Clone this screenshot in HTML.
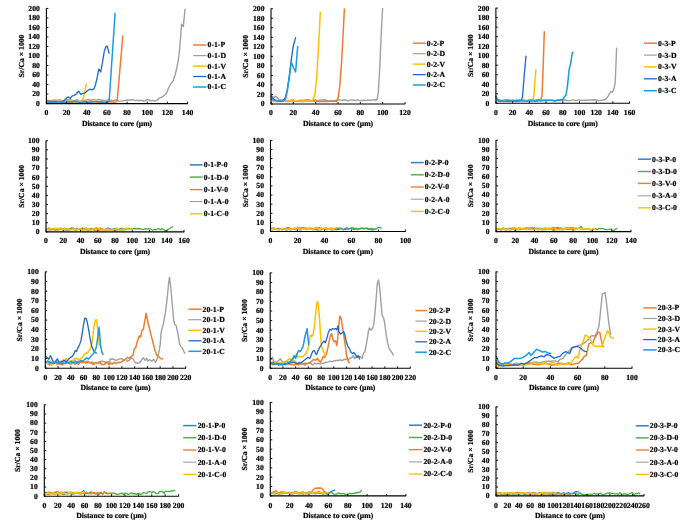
<!DOCTYPE html>
<html><head><meta charset="utf-8"><title>Sr/Ca profiles</title>
<style>html,body{margin:0;padding:0;background:#fff}body{width:685px;height:530px;overflow:hidden;font-family:"Liberation Serif",serif}svg{display:block;will-change:transform}</style>
</head><body>
<svg width="685" height="530" viewBox="0 0 685 530">
<rect width="685" height="530" fill="#fff"/>
<g font-family="Liberation Serif, serif" font-weight="bold" font-size="7.7" fill="#000" stroke="#000" stroke-width="0.2" text-rendering="geometricPrecision">
<polyline points="47.0,100.2 49.0,100.4 51.0,101.0 53.0,100.2 55.0,100.3 57.0,100.4 59.0,99.8 61.0,100.3 63.0,100.5 65.0,100.8 67.0,99.7 69.0,100.0 71.0,99.6 73.0,100.8 75.0,100.6 77.0,99.6 79.0,101.1 81.0,101.0 83.0,100.5 85.0,100.5 87.0,99.8 89.0,99.5 91.0,100.3 93.0,99.6 95.0,99.8 97.0,99.9 99.0,99.5 101.0,100.2 103.0,100.2 105.0,100.8 107.0,100.3 109.0,100.5 111.0,100.3 113.0,100.6 115.0,100.2 117.0,99.9 119.0,101.1 121.0,101.1 123.0,100.8 125.0,100.6 127.0,100.0 129.0,99.9 131.0,100.0 133.0,99.6 135.0,100.7 137.0,100.1 139.0,100.9 141.0,100.1 143.0,101.0 145.0,100.9 147.0,99.5 149.0,99.8 151.0,101.0 153.0,100.3 155.0,101.1 157.0,100.1 158.0,99.6 158.6,98.7 162.5,96.7 165.4,94.4 167.3,91.5 168.3,88.6 170.2,84.7 173.2,80.8 175.1,75.0 177.0,67.2 179.0,55.5 180.4,40.0 181.5,24.3 183.3,26.6 185.0,9.1" fill="none" stroke="#A0A0A0" stroke-width="1.4" stroke-linejoin="round" stroke-linecap="round"/>
<polyline points="47.0,102.2 49.0,102.3 51.0,102.3 53.0,101.9 55.0,101.8 57.0,102.1 59.0,102.0 61.0,102.4 63.0,102.4 65.0,102.3 67.0,102.2 69.0,102.3 71.0,101.9 73.0,102.2 75.0,101.9 77.0,102.5 79.0,101.8 81.0,102.5 83.0,101.9 85.0,102.3 87.0,102.1 89.0,102.1 91.0,102.5 93.0,101.8 95.0,101.8 97.0,102.5 99.0,102.2 101.0,101.9 103.0,102.6 105.0,102.6 107.0,101.9 109.0,102.1 111.0,101.9 113.0,102.1 115.0,102.3 116.0,101.9 117.2,100.6 122.8,36.1" fill="none" stroke="#F27C2E" stroke-width="1.5" stroke-linejoin="round" stroke-linecap="round"/>
<polyline points="47.0,101.4 49.0,101.8 51.0,101.8 53.0,101.9 55.0,101.3 57.0,101.3 59.0,101.2 61.0,101.3 63.0,101.8 65.0,101.2 67.0,101.6 69.0,101.3 71.0,101.4 73.0,101.5 75.0,101.9 77.0,101.7 79.0,101.1 81.0,101.4 82.9,99.3 84.4,93.4 86.2,84.1" fill="none" stroke="#FFC000" stroke-width="1.5" stroke-linejoin="round" stroke-linecap="round"/>
<polyline points="47.0,101.3 49.0,102.0 51.0,102.0 53.0,102.3 55.0,101.5 57.0,101.5 59.0,102.1 61.0,102.0 62.0,101.6 62.5,101.6 64.4,100.2 66.3,98.3 68.3,96.9 70.2,98.3 72.2,96.0 74.1,95.4 76.1,94.0 78.6,91.1 80.9,94.4 82.9,93.4 85.2,92.8 87.7,90.5 90.1,89.1 92.2,89.9 94.1,88.6 95.5,84.7 96.9,78.8 98.8,69.1 100.7,72.0 102.3,63.3 104.2,51.6 105.8,46.8 107.2,46.2 108.1,49.7 109.1,53.2" fill="none" stroke="#1C68CE" stroke-width="1.3" stroke-linejoin="round" stroke-linecap="round"/>
<polyline points="47.0,102.5 49.0,101.3 51.0,102.2 53.0,101.5 55.0,102.5 57.0,101.3 59.0,102.4 61.0,102.1 63.0,102.3 65.0,102.5 67.0,101.6 69.0,101.7 71.0,102.1 73.0,101.6 75.0,101.6 77.0,101.6 79.0,102.3 81.0,102.3 83.0,102.3 85.0,101.6 87.0,102.4 89.0,101.9 91.0,101.6 93.0,101.8 95.0,101.8 97.0,101.4 99.0,102.0 101.0,101.7 103.0,102.0 105.0,102.4 107.0,102.1 108.0,101.8 109.1,101.6 115.1,13.2" fill="none" stroke="#1E9BDE" stroke-width="1.5" stroke-linejoin="round" stroke-linecap="round"/>
<path d="M46.4,8.1V103.6H187.9" fill="none" stroke="#000" stroke-width="1.1"/>
<text x="39.9" y="106.00" text-anchor="end">0</text>
<text x="39.9" y="96.48" text-anchor="end">20</text>
<text x="39.9" y="86.96" text-anchor="end">40</text>
<text x="39.9" y="77.44" text-anchor="end">60</text>
<text x="39.9" y="67.92" text-anchor="end">80</text>
<text x="39.9" y="58.40" text-anchor="end">100</text>
<text x="39.9" y="48.88" text-anchor="end">120</text>
<text x="39.9" y="39.36" text-anchor="end">140</text>
<text x="39.9" y="29.84" text-anchor="end">160</text>
<text x="39.9" y="20.32" text-anchor="end">180</text>
<text x="39.9" y="10.80" text-anchor="end">200</text>
<text x="46.40" y="115.10" text-anchor="middle">0</text>
<text x="66.57" y="115.10" text-anchor="middle">20</text>
<text x="86.74" y="115.10" text-anchor="middle">40</text>
<text x="106.91" y="115.10" text-anchor="middle">60</text>
<text x="127.09" y="115.10" text-anchor="middle">80</text>
<text x="147.26" y="115.10" text-anchor="middle">100</text>
<text x="167.43" y="115.10" text-anchor="middle">120</text>
<text x="187.60" y="115.10" text-anchor="middle">140</text>
<path d="M46.4,103.60h2.0 M46.4,94.08h2.0 M46.4,84.56h2.0 M46.4,75.04h2.0 M46.4,65.52h2.0 M46.4,56.00h2.0 M46.4,46.48h2.0 M46.4,36.96h2.0 M46.4,27.44h2.0 M46.4,17.92h2.0 M46.4,8.40h2.0 M46.40,103.6v-2.0 M66.57,103.6v-2.0 M86.74,103.6v-2.0 M106.91,103.6v-2.0 M127.09,103.6v-2.0 M147.26,103.6v-2.0 M167.43,103.6v-2.0 M187.60,103.6v-2.0" stroke="#000" stroke-width="0.9" fill="none"/>
<text x="117.00" y="125.70" text-anchor="middle">Distance to core (µm)</text>
<text transform="translate(23.50,56.00) rotate(-90)" text-anchor="middle">Sr/Ca × 1000</text>
<path d="M193.1,45h13.4" stroke="#F27C2E" stroke-width="1.5" fill="none"/>
<text x="207.60" y="47.40">0-1-P</text>
<path d="M193.1,55.6h13.4" stroke="#A0A0A0" stroke-width="1.2" fill="none"/>
<text x="207.60" y="58.00">0-1-D</text>
<path d="M193.1,66.1h13.4" stroke="#FFC000" stroke-width="1.5" fill="none"/>
<text x="207.60" y="68.50">0-1-V</text>
<path d="M193.1,76.5h13.4" stroke="#1C68CE" stroke-width="1.3" fill="none"/>
<text x="207.60" y="78.90">0-1-A</text>
<path d="M193.1,87.0h13.4" stroke="#1E9BDE" stroke-width="1.5" fill="none"/>
<text x="207.60" y="89.40">0-1-C</text>
<polyline points="270.9,95.4 273.8,97.3 275.8,96.3 278.7,99.3 281.6,100.2 283.0,99.9 285.5,100.5 288.0,100.5 290.5,100.3 293.0,100.0 295.5,100.7 298.0,100.7 300.5,100.3 303.0,100.3 305.5,100.0 308.0,99.7 310.5,100.1 313.0,100.4 315.5,99.8 318.0,100.7 320.5,100.0 323.0,100.0 325.5,99.8 328.0,100.9 330.5,100.6 333.0,100.8 335.5,100.4 338.0,99.7 340.5,100.1 343.0,100.3 345.5,99.8 348.0,100.8 350.5,100.1 353.0,99.9 355.5,100.7 358.0,99.8 360.5,100.8 363.0,100.2 365.5,100.4 368.0,100.1 370.5,100.3 373.0,99.9 375.0,99.7 375.8,100.6 377.1,99.3 378.3,92.5 379.7,69.1 381.2,34.2 382.6,8.5" fill="none" stroke="#A0A0A0" stroke-width="1.4" stroke-linejoin="round" stroke-linecap="round"/>
<polyline points="272.0,101.6 274.0,100.9 276.0,100.8 278.0,101.6 280.0,100.9 282.0,100.9 284.0,101.3 286.0,101.1 288.0,101.5 290.0,101.0 292.0,101.6 294.0,101.1 296.0,101.3 298.0,101.5 300.0,101.3 302.0,101.5 304.0,101.4 306.0,100.8 308.0,101.5 310.0,101.3 312.0,101.0 314.0,101.0 316.0,101.5 318.0,101.3 320.0,101.6 322.0,101.4 324.0,101.6 326.0,101.3 328.0,101.4 330.0,101.3 332.0,101.0 334.0,101.6 336.0,101.0 337.0,101.2 338.4,96.3 339.9,84.7 341.5,63.3 342.8,40.0 344.4,8.9" fill="none" stroke="#F27C2E" stroke-width="1.5" stroke-linejoin="round" stroke-linecap="round"/>
<polyline points="272.0,101.6 274.0,101.6 276.0,101.6 278.0,100.8 280.0,101.3 282.0,101.1 284.0,101.2 286.0,100.8 288.0,100.9 290.0,101.1 292.0,100.9 294.0,101.2 296.0,100.7 298.0,100.8 300.0,101.4 302.0,101.1 304.0,101.2 306.0,101.4 308.0,101.1 310.0,100.8 311.0,101.5 311.7,101.2 313.7,98.3 315.0,93.4 316.6,78.8 318.1,53.6 319.5,28.3 320.3,12.4" fill="none" stroke="#FFC000" stroke-width="1.5" stroke-linejoin="round" stroke-linecap="round"/>
<polyline points="270.9,96.3 273.8,99.3 277.7,101.2 282.6,101.2 285.5,97.3 287.4,88.6 289.4,75.0 291.3,59.4 293.3,45.8 295.6,37.6" fill="none" stroke="#1C68CE" stroke-width="1.3" stroke-linejoin="round" stroke-linecap="round"/>
<polyline points="270.9,99.3 275.8,100.6 281.6,101.6 285.5,99.3 287.4,90.5 289.4,76.9 291.3,62.3 293.3,67.2 295.6,72.0 297.7,46.4" fill="none" stroke="#1E9BDE" stroke-width="1.5" stroke-linejoin="round" stroke-linecap="round"/>
<path d="M271,8.399999999999999V104.0H405.3" fill="none" stroke="#000" stroke-width="1.1"/>
<text x="264.5" y="106.40" text-anchor="end">0</text>
<text x="264.5" y="96.87" text-anchor="end">20</text>
<text x="264.5" y="87.34" text-anchor="end">40</text>
<text x="264.5" y="77.81" text-anchor="end">60</text>
<text x="264.5" y="68.28" text-anchor="end">80</text>
<text x="264.5" y="58.75" text-anchor="end">100</text>
<text x="264.5" y="49.22" text-anchor="end">120</text>
<text x="264.5" y="39.69" text-anchor="end">140</text>
<text x="264.5" y="30.16" text-anchor="end">160</text>
<text x="264.5" y="20.63" text-anchor="end">180</text>
<text x="264.5" y="11.10" text-anchor="end">200</text>
<text x="271.00" y="115.10" text-anchor="middle">0</text>
<text x="293.33" y="115.10" text-anchor="middle">20</text>
<text x="315.67" y="115.10" text-anchor="middle">40</text>
<text x="338.00" y="115.10" text-anchor="middle">60</text>
<text x="360.33" y="115.10" text-anchor="middle">80</text>
<text x="382.67" y="115.10" text-anchor="middle">100</text>
<text x="405.00" y="115.10" text-anchor="middle">120</text>
<path d="M271,104.00h2.0 M271,94.47h2.0 M271,84.94h2.0 M271,75.41h2.0 M271,65.88h2.0 M271,56.35h2.0 M271,46.82h2.0 M271,37.29h2.0 M271,27.76h2.0 M271,18.23h2.0 M271,8.70h2.0 M271.00,104.0v-2.0 M293.33,104.0v-2.0 M315.67,104.0v-2.0 M338.00,104.0v-2.0 M360.33,104.0v-2.0 M382.67,104.0v-2.0 M405.00,104.0v-2.0" stroke="#000" stroke-width="0.9" fill="none"/>
<text x="338.00" y="125.70" text-anchor="middle">Distance to core (µm)</text>
<text transform="translate(248.00,56.35) rotate(-90)" text-anchor="middle">Sr/Ca × 1000</text>
<path d="M412.8,43.2h13.0" stroke="#F27C2E" stroke-width="1.5" fill="none"/>
<text x="426.80" y="45.60">0-2-P</text>
<path d="M412.8,53.7h13.0" stroke="#A0A0A0" stroke-width="1.2" fill="none"/>
<text x="426.80" y="56.10">0-2-D</text>
<path d="M412.8,64.1h13.0" stroke="#FFC000" stroke-width="1.5" fill="none"/>
<text x="426.80" y="66.50">0-2-V</text>
<path d="M412.8,74.6h13.0" stroke="#1C68CE" stroke-width="1.3" fill="none"/>
<text x="426.80" y="77.00">0-2-A</text>
<path d="M412.8,85.0h13.0" stroke="#1E9BDE" stroke-width="1.5" fill="none"/>
<text x="426.80" y="87.40">0-2-C</text>
<polyline points="497.0,99.6 499.0,99.7 501.0,100.1 503.0,100.4 505.0,99.8 507.0,99.7 509.0,99.9 511.0,100.5 513.0,99.8 515.0,100.5 517.0,100.4 519.0,99.8 521.0,100.2 523.0,100.1 525.0,100.1 527.0,100.8 529.0,99.7 531.0,99.6 533.0,100.7 535.0,100.1 537.0,99.8 539.0,100.0 541.0,100.0 543.0,100.7 545.0,99.9 547.0,99.9 549.0,100.3 551.0,100.3 553.0,100.7 555.0,100.6 557.0,100.0 559.0,99.8 561.0,100.6 563.0,100.8 565.0,99.6 567.0,100.5 569.0,100.6 571.0,100.4 573.0,99.9 575.0,100.6 577.0,100.5 579.0,99.8 580.0,100.4 585.3,100.2 595.0,99.8 598.9,100.6 604.7,99.8 607.6,97.3 609.6,93.4 610.9,91.5 612.5,92.1 614.0,88.6 615.2,82.7 616.0,63.3 616.6,48.1" fill="none" stroke="#A0A0A0" stroke-width="1.4" stroke-linejoin="round" stroke-linecap="round"/>
<polyline points="497.0,100.6 499.0,100.7 501.0,100.7 503.0,101.2 505.0,100.9 507.0,101.1 509.0,100.6 511.0,100.9 513.0,101.2 515.0,100.9 517.0,101.3 519.0,101.2 521.0,100.8 523.0,100.5 525.0,101.1 527.0,100.6 529.0,100.5 531.0,101.1 533.0,101.2 535.0,101.2 537.0,101.3 539.0,100.7 540.0,100.6 540.6,100.6 542.0,96.3 543.1,69.1 544.3,31.8" fill="none" stroke="#F27C2E" stroke-width="1.5" stroke-linejoin="round" stroke-linecap="round"/>
<polyline points="497.0,100.7 499.0,100.7 501.0,100.9 503.0,100.4 505.0,100.8 507.0,101.0 509.0,101.0 511.0,100.3 513.0,100.8 515.0,100.7 517.0,100.6 519.0,101.1 521.0,100.6 523.0,100.5 525.0,101.0 527.0,100.7 529.0,100.4 531.0,100.4 532.0,100.6 532.8,100.6 533.8,96.3 535.0,80.8 535.9,69.7" fill="none" stroke="#FFC000" stroke-width="1.5" stroke-linejoin="round" stroke-linecap="round"/>
<polyline points="495.9,97.9 497.9,100.6 499.0,100.9 501.0,101.0 503.0,101.2 505.0,101.3 507.0,101.3 509.0,100.8 511.0,101.3 513.0,100.8 515.0,100.7 517.0,100.5 519.0,100.9 520.0,100.6 521.2,100.6 522.5,97.3 524.1,76.9 526.0,56.1" fill="none" stroke="#1C68CE" stroke-width="1.3" stroke-linejoin="round" stroke-linecap="round"/>
<polyline points="495.9,96.3 497.9,100.2 499.0,100.9 501.0,101.2 503.0,101.1 505.0,101.3 507.0,100.5 509.0,101.5 511.0,100.9 513.0,101.1 515.0,101.2 517.0,101.4 519.0,100.5 521.0,100.6 523.0,101.1 525.0,100.9 527.0,101.2 529.0,100.6 531.0,101.4 533.0,100.1 535.0,101.1 537.0,100.6 539.0,100.1 541.0,101.0 543.0,100.2 545.0,100.4 547.0,100.6 549.0,100.3 551.0,100.3 553.0,100.2 555.0,101.3 557.0,100.2 558.0,100.3 559.1,100.6 561.0,99.3 562.6,100.2 564.5,96.3 565.9,95.4 567.4,86.6 569.2,69.1 570.7,63.3 572.3,52.6 573.0,52.2" fill="none" stroke="#1E9BDE" stroke-width="1.5" stroke-linejoin="round" stroke-linecap="round"/>
<path d="M495.9,7.8V103.3H629.9" fill="none" stroke="#000" stroke-width="1.1"/>
<text x="489.4" y="105.70" text-anchor="end">0</text>
<text x="489.4" y="96.18" text-anchor="end">20</text>
<text x="489.4" y="86.66" text-anchor="end">40</text>
<text x="489.4" y="77.14" text-anchor="end">60</text>
<text x="489.4" y="67.62" text-anchor="end">80</text>
<text x="489.4" y="58.10" text-anchor="end">100</text>
<text x="489.4" y="48.58" text-anchor="end">120</text>
<text x="489.4" y="39.06" text-anchor="end">140</text>
<text x="489.4" y="29.54" text-anchor="end">160</text>
<text x="489.4" y="20.02" text-anchor="end">180</text>
<text x="489.4" y="10.50" text-anchor="end">200</text>
<text x="495.90" y="114.90" text-anchor="middle">0</text>
<text x="512.61" y="114.90" text-anchor="middle">20</text>
<text x="529.33" y="114.90" text-anchor="middle">40</text>
<text x="546.04" y="114.90" text-anchor="middle">60</text>
<text x="562.75" y="114.90" text-anchor="middle">80</text>
<text x="579.46" y="114.90" text-anchor="middle">100</text>
<text x="596.17" y="114.90" text-anchor="middle">120</text>
<text x="612.89" y="114.90" text-anchor="middle">140</text>
<text x="629.60" y="114.90" text-anchor="middle">160</text>
<path d="M495.9,103.30h2.0 M495.9,93.78h2.0 M495.9,84.26h2.0 M495.9,74.74h2.0 M495.9,65.22h2.0 M495.9,55.70h2.0 M495.9,46.18h2.0 M495.9,36.66h2.0 M495.9,27.14h2.0 M495.9,17.62h2.0 M495.9,8.10h2.0 M495.90,103.3v-2.0 M512.61,103.3v-2.0 M529.33,103.3v-2.0 M546.04,103.3v-2.0 M562.75,103.3v-2.0 M579.46,103.3v-2.0 M596.17,103.3v-2.0 M612.89,103.3v-2.0 M629.60,103.3v-2.0" stroke="#000" stroke-width="0.9" fill="none"/>
<text x="562.75" y="125.50" text-anchor="middle">Distance to core (µm)</text>
<text transform="translate(473.00,55.70) rotate(-90)" text-anchor="middle">Sr/Ca × 1000</text>
<path d="M644.0,43.2h12.9" stroke="#F27C2E" stroke-width="1.5" fill="none"/>
<text x="658.10" y="45.60">0-3-P</text>
<path d="M644.0,55.1h12.9" stroke="#A0A0A0" stroke-width="1.2" fill="none"/>
<text x="658.10" y="57.50">0-3-D</text>
<path d="M644.0,66.9h12.9" stroke="#FFC000" stroke-width="1.5" fill="none"/>
<text x="658.10" y="69.30">0-3-V</text>
<path d="M644.0,78.8h12.9" stroke="#1C68CE" stroke-width="1.3" fill="none"/>
<text x="658.10" y="81.20">0-3-A</text>
<path d="M644.0,90.7h12.9" stroke="#1E9BDE" stroke-width="1.5" fill="none"/>
<text x="658.10" y="93.10">0-3-C</text>
<polyline points="46.5,228.7 48.3,228.4 50.1,228.3 51.9,229.9 53.7,229.2 55.5,229.4 57.3,229.1 59.1,228.7 60.9,229.5 62.7,229.2 64.5,229.6 66.3,229.4 68.1,229.7 69.9,228.9 71.7,228.2 73.5,228.2 75.3,229.5 77.1,228.3 78.9,229.3 80.7,229.3 82.5,228.0 84.3,229.6 86.1,228.0 87.9,229.8 89.7,229.8 91.5,228.4 93.3,229.5 95.1,229.5 96.9,228.2 98.7,229.4 100.5,228.2 102.3,229.9 104.1,229.4 105.9,230.1 107.7,228.0 109.5,228.6 111.3,229.3 113.1,229.2 114.9,228.3 116.7,229.9 118.5,229.8 120.3,228.6 122.1,228.2 123.9,229.4 125.0,228.8" fill="none" stroke="#2F7FD8" stroke-width="1.3" stroke-linejoin="round" stroke-linecap="round"/>
<polyline points="46.5,229.6 48.5,228.4 50.5,228.9 52.5,228.7 54.5,229.8 56.5,229.7 58.5,230.1 60.5,228.5 62.5,229.1 64.5,228.4 66.5,228.7 68.5,229.3 70.5,228.4 72.5,228.7 74.5,229.6 76.5,229.4 78.5,228.7 80.5,229.5 82.5,229.9 84.5,228.3 86.5,229.9 88.5,229.7 90.5,229.0 92.5,228.6 94.5,230.2 96.5,229.0 98.5,228.5 100.5,228.5 102.5,230.0 104.5,229.5 106.5,229.9 108.5,229.8 110.5,229.4 112.5,230.2 114.5,229.1 116.5,229.4 118.5,230.0 120.5,229.5 122.5,230.0 124.5,229.5 126.5,229.7 128.5,228.4 130.5,228.8 132.5,228.9 134.5,228.5 136.5,228.8 138.5,228.5 140.5,228.9 142.5,229.6 144.5,229.0 146.5,229.0 148.5,228.7 150.5,228.8 152.5,230.2 154.5,229.6 156.5,229.5 158.5,228.6 160.5,229.8 162.0,228.6 164.0,229.9 166.0,231.3 168.0,229.3 170.0,228.5 172.5,226.7" fill="none" stroke="#48B040" stroke-width="1.3" stroke-linejoin="round" stroke-linecap="round"/>
<polyline points="46.5,228.3 48.3,229.7 50.1,228.5 51.9,229.2 53.7,229.7 55.5,229.9 57.3,229.2 59.1,229.3 60.9,228.2 62.7,229.2 64.5,229.0 66.3,230.1 68.1,229.4 69.9,229.9 71.7,229.2 73.5,228.6 75.3,230.1 77.1,230.0 78.9,229.0 80.7,228.4 82.5,229.3 84.3,229.3 86.1,229.9 87.9,229.5 89.7,229.3 91.5,229.5 93.3,229.0 95.1,228.3 96.9,228.3 98.7,230.3 100.5,230.0 102.3,228.9 104.1,230.2 105.9,229.3 107.7,228.4 109.5,230.1 111.3,229.5 113.1,230.3 114.9,229.7 116.7,228.4 118.5,229.6 120.0,229.9" fill="none" stroke="#F27C2E" stroke-width="1.4" stroke-linejoin="round" stroke-linecap="round"/>
<polyline points="46.5,229.5 48.5,229.7 50.5,230.2 52.5,229.1 54.5,229.2 56.5,228.8 58.5,229.0 60.5,228.8 62.5,229.1 64.5,229.6 66.5,230.4 68.5,229.9 70.5,229.4 72.5,229.4 74.5,229.9 76.5,229.3 78.5,228.9 80.5,230.1 82.5,229.8 84.5,229.0 86.5,228.9 88.5,229.0 90.5,230.3 92.5,229.0 94.5,229.8 96.5,230.4 98.5,228.9 100.5,229.4 102.5,229.6 104.5,230.3 106.5,229.1 108.5,229.2 110.0,229.2" fill="none" stroke="#A0A0A0" stroke-width="1.2" stroke-linejoin="round" stroke-linecap="round"/>
<polyline points="46.5,228.8 48.3,229.3 50.1,228.4 51.9,228.9 53.7,228.4 55.5,228.2 57.3,228.8 59.1,228.5 60.9,228.9 62.7,229.8 64.5,228.3 66.3,229.6 68.1,228.5 69.9,229.9 71.7,229.8 73.5,228.7 75.3,230.1 77.1,229.8 78.9,228.4 80.7,229.1 82.5,229.7 84.3,230.2 86.1,228.6 87.9,228.8 89.7,229.9 91.5,230.3 93.3,228.4 95.1,228.4 96.9,229.9 98.7,228.9 100.5,229.1 102.3,230.1 104.1,229.8 105.9,229.7 107.7,230.1 109.5,229.8 111.3,230.0 113.1,229.6 114.9,229.5 116.7,228.3 118.5,230.2 120.3,230.2 122.1,229.0 123.9,229.6 125.7,228.2 127.5,229.3 129.3,229.6 131.1,228.8 132.0,229.1" fill="none" stroke="#FFC000" stroke-width="1.5" stroke-linejoin="round" stroke-linecap="round"/>
<path d="M46,140.39999999999998V231.9H184.3" fill="none" stroke="#000" stroke-width="1.1"/>
<text x="39.5" y="234.30" text-anchor="end">0</text>
<text x="39.5" y="225.18" text-anchor="end">10</text>
<text x="39.5" y="216.06" text-anchor="end">20</text>
<text x="39.5" y="206.94" text-anchor="end">30</text>
<text x="39.5" y="197.82" text-anchor="end">40</text>
<text x="39.5" y="188.70" text-anchor="end">50</text>
<text x="39.5" y="179.58" text-anchor="end">60</text>
<text x="39.5" y="170.46" text-anchor="end">70</text>
<text x="39.5" y="161.34" text-anchor="end">80</text>
<text x="39.5" y="152.22" text-anchor="end">90</text>
<text x="39.5" y="143.10" text-anchor="end">100</text>
<text x="46.00" y="243.00" text-anchor="middle">0</text>
<text x="63.25" y="243.00" text-anchor="middle">20</text>
<text x="80.50" y="243.00" text-anchor="middle">40</text>
<text x="97.75" y="243.00" text-anchor="middle">60</text>
<text x="115.00" y="243.00" text-anchor="middle">80</text>
<text x="132.25" y="243.00" text-anchor="middle">100</text>
<text x="149.50" y="243.00" text-anchor="middle">120</text>
<text x="166.75" y="243.00" text-anchor="middle">140</text>
<text x="184.00" y="243.00" text-anchor="middle">160</text>
<path d="M46,231.90h2.0 M46,222.78h2.0 M46,213.66h2.0 M46,204.54h2.0 M46,195.42h2.0 M46,186.30h2.0 M46,177.18h2.0 M46,168.06h2.0 M46,158.94h2.0 M46,149.82h2.0 M46,140.70h2.0 M46.00,231.9v-2.0 M63.25,231.9v-2.0 M80.50,231.9v-2.0 M97.75,231.9v-2.0 M115.00,231.9v-2.0 M132.25,231.9v-2.0 M149.50,231.9v-2.0 M166.75,231.9v-2.0 M184.00,231.9v-2.0" stroke="#000" stroke-width="0.9" fill="none"/>
<text x="115.00" y="253.70" text-anchor="middle">Distance to core (µm)</text>
<text transform="translate(23.50,186.30) rotate(-90)" text-anchor="middle">Sr/Ca × 1000</text>
<path d="M189.9,164.9h12.8" stroke="#2F7FD8" stroke-width="1.5" fill="none"/>
<text x="203.80" y="167.30">0-1-P-0</text>
<path d="M189.9,177.1h12.8" stroke="#48B040" stroke-width="1.4" fill="none"/>
<text x="203.80" y="179.50">0-1-D-0</text>
<path d="M189.9,189.6h12.8" stroke="#F27C2E" stroke-width="1.4" fill="none"/>
<text x="203.80" y="192.00">0-1-V-0</text>
<path d="M189.9,201.5h12.8" stroke="#A0A0A0" stroke-width="1.1" fill="none"/>
<text x="203.80" y="203.90">0-1-A-0</text>
<path d="M189.9,213.8h12.8" stroke="#FFC000" stroke-width="1.4" fill="none"/>
<text x="203.80" y="216.20">0-1-C-0</text>
<polyline points="271.0,228.4 272.8,228.9 274.6,228.2 276.4,229.5 278.2,228.4 280.0,229.0 281.8,229.8 283.6,228.7 285.4,229.8 287.2,229.4 289.0,229.0 290.8,229.2 292.6,229.1 294.4,228.6 296.2,229.9 298.0,228.7 299.8,229.9 301.6,229.6 303.4,228.0 305.2,228.4 307.0,228.9 308.8,229.5 310.6,228.3 312.4,229.1 314.2,228.6 316.0,229.5 317.8,229.8 319.6,229.4 321.4,228.3 323.2,229.4 325.0,228.8 326.8,229.6 328.6,228.8 330.4,229.7 332.2,229.9 334.0,229.5 335.8,229.6 337.6,229.5 339.4,229.1 341.2,228.2 343.0,229.9 344.8,228.8 346.6,227.9 348.4,228.8 350.2,228.7 352.0,228.3 353.8,229.8 355.6,228.1 357.4,229.7 359.2,229.0 361.0,228.3 362.8,228.6 364.6,228.8 366.4,228.1 368.2,229.4 370.0,229.2 371.8,229.9 373.6,229.6 374.5,229.5" fill="none" stroke="#2F7FD8" stroke-width="1.3" stroke-linejoin="round" stroke-linecap="round"/>
<polyline points="271.0,229.9 273.0,228.0 275.0,229.4 277.0,228.9 279.0,229.8 281.0,228.7 283.0,229.7 285.0,228.2 287.0,229.9 289.0,228.7 291.0,228.3 293.0,228.6 295.0,229.2 297.0,228.0 299.0,228.7 301.0,227.9 303.0,228.0 305.0,228.2 307.0,228.4 309.0,228.4 311.0,229.5 313.0,228.7 315.0,229.6 317.0,229.7 319.0,229.7 321.0,229.8 323.0,229.1 325.0,229.2 327.0,229.7 329.0,229.0 331.0,228.2 333.0,228.9 335.0,229.0 337.0,228.3 339.0,228.1 341.0,228.3 343.0,229.3 345.0,229.5 347.0,229.2 349.0,228.8 351.0,228.0 353.0,227.9 355.0,229.2 357.0,229.0 359.0,228.8 361.0,228.2 363.0,228.1 365.0,228.3 367.0,228.2 369.0,229.1 371.0,228.5 373.0,229.0 375.0,228.8 376.0,229.0 378.0,227.5 380.0,227.3 381.0,228.3" fill="none" stroke="#48B040" stroke-width="1.3" stroke-linejoin="round" stroke-linecap="round"/>
<polyline points="271.0,228.9 272.8,229.5 274.6,228.5 276.4,229.1 278.2,229.6 280.0,228.6 281.8,229.2 283.6,229.1 285.4,229.5 287.2,227.5 289.0,227.8 290.8,229.8 292.6,229.2 294.4,228.0 296.2,229.2 298.0,227.8 299.8,228.3 301.6,228.5 303.4,227.9 305.2,227.7 307.0,228.6 308.8,229.0 310.6,228.2 312.4,229.0 314.2,229.8 316.0,227.5 317.8,228.1 319.6,227.6 321.4,229.0 323.2,228.4 325.0,228.5 326.8,228.0 328.6,229.3 330.4,229.2 332.2,228.5 334.0,229.4 335.8,228.0 337.0,228.2" fill="none" stroke="#F27C2E" stroke-width="1.4" stroke-linejoin="round" stroke-linecap="round"/>
<polyline points="271.0,229.6 273.0,228.2 275.0,229.0 277.0,228.9 279.0,229.7 281.0,228.7 283.0,228.8 285.0,229.0 287.0,228.7 289.0,229.6 291.0,229.6 293.0,229.3 295.0,228.1 297.0,229.8 299.0,229.0 301.0,229.1 303.0,229.0 305.0,228.9 307.0,229.7 309.0,228.5 311.0,228.3 313.0,229.8 315.0,228.5 317.0,228.5 319.0,228.8 321.0,229.6 323.0,228.7 325.0,228.0" fill="none" stroke="#A0A0A0" stroke-width="1.2" stroke-linejoin="round" stroke-linecap="round"/>
<polyline points="271.0,228.0 272.8,229.9 274.6,228.1 276.4,229.4 278.2,229.7 280.0,229.4 281.8,228.5 283.6,228.6 285.4,229.4 287.2,229.9 289.0,229.3 290.8,229.0 292.6,228.7 294.4,228.7 296.2,229.4 298.0,228.7 299.8,229.0 301.6,229.2 303.4,229.2 305.2,227.9 307.0,228.3 308.8,229.4 310.6,229.1 312.4,229.6 314.2,227.9 316.0,228.3 317.8,228.9 319.6,229.4 321.4,228.2 323.2,229.5 325.0,228.7 326.8,228.5 328.6,229.6 330.4,228.0 332.2,229.9 334.0,228.5 335.0,228.6" fill="none" stroke="#FFC000" stroke-width="1.5" stroke-linejoin="round" stroke-linecap="round"/>
<path d="M270.5,140.1V231.5H405.7" fill="none" stroke="#000" stroke-width="1.1"/>
<text x="264.0" y="233.90" text-anchor="end">0</text>
<text x="264.0" y="224.79" text-anchor="end">10</text>
<text x="264.0" y="215.68" text-anchor="end">20</text>
<text x="264.0" y="206.57" text-anchor="end">30</text>
<text x="264.0" y="197.46" text-anchor="end">40</text>
<text x="264.0" y="188.35" text-anchor="end">50</text>
<text x="264.0" y="179.24" text-anchor="end">60</text>
<text x="264.0" y="170.13" text-anchor="end">70</text>
<text x="264.0" y="161.02" text-anchor="end">80</text>
<text x="264.0" y="151.91" text-anchor="end">90</text>
<text x="264.0" y="142.80" text-anchor="end">100</text>
<text x="270.50" y="243.00" text-anchor="middle">0</text>
<text x="297.48" y="243.00" text-anchor="middle">20</text>
<text x="324.46" y="243.00" text-anchor="middle">40</text>
<text x="351.44" y="243.00" text-anchor="middle">60</text>
<text x="378.42" y="243.00" text-anchor="middle">80</text>
<text x="405.40" y="243.00" text-anchor="middle">100</text>
<path d="M270.5,231.50h2.0 M270.5,222.39h2.0 M270.5,213.28h2.0 M270.5,204.17h2.0 M270.5,195.06h2.0 M270.5,185.95h2.0 M270.5,176.84h2.0 M270.5,167.73h2.0 M270.5,158.62h2.0 M270.5,149.51h2.0 M270.5,140.40h2.0 M270.50,231.5v-2.0 M297.48,231.5v-2.0 M324.46,231.5v-2.0 M351.44,231.5v-2.0 M378.42,231.5v-2.0 M405.40,231.5v-2.0" stroke="#000" stroke-width="0.9" fill="none"/>
<text x="337.95" y="253.70" text-anchor="middle">Distance to core (µm)</text>
<text transform="translate(247.50,185.95) rotate(-90)" text-anchor="middle">Sr/Ca × 1000</text>
<path d="M410.8,162.6h13.0" stroke="#2F7FD8" stroke-width="1.5" fill="none"/>
<text x="424.80" y="165.00">0-2-P-0</text>
<path d="M410.8,174.8h13.0" stroke="#48B040" stroke-width="1.4" fill="none"/>
<text x="424.80" y="177.20">0-2-D-0</text>
<path d="M410.8,187.0h13.0" stroke="#F27C2E" stroke-width="1.4" fill="none"/>
<text x="424.80" y="189.40">0-2-V-0</text>
<path d="M410.8,199.2h13.0" stroke="#A0A0A0" stroke-width="1.1" fill="none"/>
<text x="424.80" y="201.60">0-2-A-0</text>
<path d="M410.8,211.4h13.0" stroke="#FFC000" stroke-width="1.4" fill="none"/>
<text x="424.80" y="213.80">0-2-C-0</text>
<polyline points="496.5,228.7 498.3,228.8 500.1,229.4 501.9,228.3 503.7,228.3 505.5,229.1 507.3,228.7 509.1,228.4 510.9,228.5 512.7,228.3 514.5,228.0 516.3,229.0 518.1,229.6 519.9,229.1 521.7,229.0 523.5,228.3 525.3,228.6 527.1,227.9 528.9,229.2 530.7,228.3 532.5,228.2 534.3,229.8 536.1,228.3 537.9,229.8 539.7,229.0 541.5,229.3 543.3,229.0 545.1,228.0 546.9,229.2 548.7,228.2 550.5,228.5 552.3,227.9 554.1,227.7 555.9,228.4 557.7,227.6 559.5,228.4 561.3,229.5 563.1,229.8 564.9,228.5 566.7,227.8 568.5,228.4 570.3,227.7 572.1,228.1 573.0,229.0" fill="none" stroke="#2F7FD8" stroke-width="1.3" stroke-linejoin="round" stroke-linecap="round"/>
<polyline points="496.5,229.9 498.5,228.3 500.5,229.9 502.5,228.5 504.5,228.9 506.5,229.8 508.5,228.7 510.5,229.0 512.5,228.3 514.5,229.9 516.5,230.0 518.5,228.3 520.5,228.2 522.5,228.9 524.5,229.0 526.5,229.6 528.5,228.7 530.5,229.2 532.5,228.3 534.5,228.4 536.5,228.2 538.5,229.1 540.5,229.1 542.5,229.2 544.5,229.9 546.5,228.6 548.5,228.7 550.5,228.9 552.5,229.9 554.5,228.6 556.5,228.6 558.5,228.9 560.5,229.4 562.5,228.6 564.5,228.3 566.5,229.5 568.5,229.2 570.5,229.2 572.5,228.0 574.5,228.5 576.5,228.2 577.0,228.7 579.0,228.2 581.0,226.2 583.0,229.5 585.0,229.0 587.0,229.1 589.0,228.9 591.0,229.9 593.0,229.2 595.0,228.5 597.0,229.6 599.0,228.5 601.0,228.7 603.0,228.5 605.0,229.4 607.0,229.7 609.0,229.4 611.0,228.8 612.0,229.8 614.0,230.6 616.6,228.4" fill="none" stroke="#48B040" stroke-width="1.3" stroke-linejoin="round" stroke-linecap="round"/>
<polyline points="496.5,228.9 498.3,229.3 500.1,228.8 501.9,229.9 503.7,227.9 505.5,230.1 507.3,229.4 509.1,229.7 510.9,229.7 512.7,228.3 514.5,229.7 516.3,229.3 518.1,228.2 519.9,229.8 521.7,228.9 523.5,229.5 525.3,228.1 527.1,229.4 528.9,227.9 530.7,228.0 532.5,228.1 534.3,228.0 536.1,229.2 537.9,228.4 539.7,228.3 541.5,229.7 543.3,229.6 545.1,228.8 546.9,228.4 548.7,229.5 550.5,229.1 552.3,228.7 554.1,228.6 555.9,228.7 557.7,229.0 559.5,228.3 561.3,227.9 563.1,228.9 564.9,228.4 566.7,228.0 568.5,228.5 570.3,229.4 572.1,229.7 573.9,228.0 575.0,229.7" fill="none" stroke="#F27C2E" stroke-width="1.4" stroke-linejoin="round" stroke-linecap="round"/>
<polyline points="496.5,228.9 498.5,228.7 500.5,229.6 502.5,228.9 504.5,229.0 506.5,229.1 508.5,228.7 510.5,229.2 512.5,229.6 514.5,228.3 516.5,229.1 518.5,228.6 520.5,229.2 522.5,229.2 524.5,228.3 526.5,228.4 528.5,229.0 530.5,229.6 532.5,229.5 534.5,229.5 536.5,228.4 538.5,228.8 540.5,229.1 542.5,228.8 544.5,228.6 546.5,229.7 548.5,229.2 550.5,228.8 552.5,229.0 554.5,229.3 556.5,229.4 558.5,229.4 560.5,228.7 562.5,229.7 564.5,229.4 566.5,228.6 568.5,228.5 570.0,228.9" fill="none" stroke="#A0A0A0" stroke-width="1.2" stroke-linejoin="round" stroke-linecap="round"/>
<polyline points="496.5,228.1 498.3,228.9 500.1,228.4 501.9,228.9 503.7,228.5 505.5,229.8 507.3,229.1 509.1,229.5 510.9,229.9 512.7,229.0 514.5,228.9 516.3,228.2 518.1,229.6 519.9,228.1 521.7,228.7 523.5,228.3 525.3,229.5 527.1,228.9 528.9,229.0 530.7,229.1 532.5,229.8 534.3,230.1 536.1,228.7 537.9,229.8 539.7,229.5 541.5,229.4 543.3,230.0 545.1,228.4 546.9,228.6 548.7,229.0 550.5,228.6 552.3,228.5 554.1,228.3 555.9,229.9 557.7,230.0 559.5,229.8 561.3,229.6 563.1,228.8 564.9,228.6 566.7,228.8 568.5,227.9 570.3,228.2 572.1,228.9 573.9,228.8 575.7,229.3 577.5,229.1 579.3,228.1 581.1,229.8 582.9,228.8 584.7,229.0 586.5,228.7 588.3,228.7 590.1,229.9 591.9,230.0 593.7,228.3 595.0,229.9" fill="none" stroke="#FFC000" stroke-width="1.5" stroke-linejoin="round" stroke-linecap="round"/>
<path d="M496,139.89999999999998V231.6H631.3" fill="none" stroke="#000" stroke-width="1.1"/>
<text x="489.5" y="234.00" text-anchor="end">0</text>
<text x="489.5" y="224.86" text-anchor="end">10</text>
<text x="489.5" y="215.72" text-anchor="end">20</text>
<text x="489.5" y="206.58" text-anchor="end">30</text>
<text x="489.5" y="197.44" text-anchor="end">40</text>
<text x="489.5" y="188.30" text-anchor="end">50</text>
<text x="489.5" y="179.16" text-anchor="end">60</text>
<text x="489.5" y="170.02" text-anchor="end">70</text>
<text x="489.5" y="160.88" text-anchor="end">80</text>
<text x="489.5" y="151.74" text-anchor="end">90</text>
<text x="489.5" y="142.60" text-anchor="end">100</text>
<text x="496.00" y="243.00" text-anchor="middle">0</text>
<text x="515.29" y="243.00" text-anchor="middle">20</text>
<text x="534.57" y="243.00" text-anchor="middle">40</text>
<text x="553.86" y="243.00" text-anchor="middle">60</text>
<text x="573.14" y="243.00" text-anchor="middle">80</text>
<text x="592.43" y="243.00" text-anchor="middle">100</text>
<text x="611.71" y="243.00" text-anchor="middle">120</text>
<text x="631.00" y="243.00" text-anchor="middle">140</text>
<path d="M496,231.60h2.0 M496,222.46h2.0 M496,213.32h2.0 M496,204.18h2.0 M496,195.04h2.0 M496,185.90h2.0 M496,176.76h2.0 M496,167.62h2.0 M496,158.48h2.0 M496,149.34h2.0 M496,140.20h2.0 M496.00,231.6v-2.0 M515.29,231.6v-2.0 M534.57,231.6v-2.0 M553.86,231.6v-2.0 M573.14,231.6v-2.0 M592.43,231.6v-2.0 M611.71,231.6v-2.0 M631.00,231.6v-2.0" stroke="#000" stroke-width="0.9" fill="none"/>
<text x="563.50" y="253.70" text-anchor="middle">Distance to core (µm)</text>
<text transform="translate(473.00,185.90) rotate(-90)" text-anchor="middle">Sr/Ca × 1000</text>
<path d="M637.9,159.2h13.1" stroke="#2F7FD8" stroke-width="1.5" fill="none"/>
<text x="652.10" y="161.60">0-3-P-0</text>
<path d="M637.9,171.5h13.1" stroke="#48B040" stroke-width="1.4" fill="none"/>
<text x="652.10" y="173.90">0-3-D-0</text>
<path d="M637.9,183.4h13.1" stroke="#F27C2E" stroke-width="1.4" fill="none"/>
<text x="652.10" y="185.80">0-3-V-0</text>
<path d="M637.9,195.8h13.1" stroke="#A0A0A0" stroke-width="1.1" fill="none"/>
<text x="652.10" y="198.20">0-3-A-0</text>
<path d="M637.9,207.8h13.1" stroke="#FFC000" stroke-width="1.4" fill="none"/>
<text x="652.10" y="210.20">0-3-C-0</text>
<polyline points="46.0,361.6 48.0,362.2 50.0,361.0 52.0,363.0 54.0,362.6 56.0,363.0 58.0,361.5 60.0,361.4 62.0,361.1 64.0,361.4 66.0,361.0 68.0,362.4 70.0,361.7 72.0,362.6 74.0,362.5 76.0,361.7 78.0,361.3 80.0,361.7 82.0,361.1 84.0,362.3 86.0,361.4 88.0,361.3 90.0,362.8 92.0,361.9 94.0,362.9 96.0,363.0 98.0,362.3 100.0,361.5 102.0,361.3 104.0,361.5 106.0,362.5 108.0,362.0 110.0,361.6 110.0,359.3 112.9,359.0 115.8,360.3 118.7,359.3 121.7,358.4 123.6,360.9 125.5,359.3 127.5,361.3 129.4,360.3 131.4,357.8 133.3,359.3 135.3,362.8 138.2,363.2 140.1,362.3 142.1,359.3 143.4,357.8 145.0,360.3 146.5,358.4 147.9,360.9 149.8,359.7 151.8,361.3 153.7,359.3 155.7,362.3 157.0,359.3 158.6,353.5 160.1,345.7 161.1,332.1 162.1,328.6 163.4,323.4 165.4,312.7 167.3,297.2 168.7,282.6 169.5,277.3 170.6,285.5 172.2,303.0 173.7,320.5 174.7,324.7 176.1,325.3 178.0,334.1 179.6,343.8 180.9,346.7 182.3,347.7 183.8,351.6 184.8,353.1" fill="none" stroke="#A0A0A0" stroke-width="1.4" stroke-linejoin="round" stroke-linecap="round"/>
<polyline points="46.0,361.9 47.8,363.6 49.6,364.9 51.4,362.8 53.2,363.4 55.0,362.9 56.8,364.1 58.6,363.9 60.4,363.6 62.2,364.8 64.0,363.9 65.8,362.8 67.6,362.9 69.4,363.7 71.2,363.9 73.0,362.4 74.8,364.3 76.6,363.1 78.4,364.2 80.2,362.0 82.0,362.7 83.8,361.8 85.6,363.0 87.4,362.5 89.2,362.8 91.0,362.4 92.8,364.4 94.6,363.7 96.4,362.8 98.2,363.3 100.0,362.3 101.8,364.7 103.6,364.6 105.4,363.5 107.2,362.2 109.0,364.8 110.0,362.4 110.0,363.2 111.9,364.2 113.9,362.3 115.8,363.6 117.8,362.3 119.7,362.8 121.7,361.7 123.6,360.3 125.5,359.0 127.5,357.4 129.4,358.4 131.4,356.4 132.9,355.5 134.3,348.7 135.7,347.7 137.2,341.8 139.2,336.0 140.5,337.0 142.1,330.2 143.4,329.2 145.0,319.5 146.1,313.3 147.3,319.5 148.9,326.3 150.8,334.1 152.8,341.8 154.7,349.6 156.6,355.1 158.6,356.4 160.5,358.4 162.5,359.0" fill="none" stroke="#F27C2E" stroke-width="1.5" stroke-linejoin="round" stroke-linecap="round"/>
<polyline points="45.9,361.3 47.9,363.2 49.8,364.2 51.7,365.2 53.7,362.3 55.6,363.2 57.6,361.3 59.5,364.2 61.5,363.2 63.4,359.3 64.8,361.3 66.3,358.4 68.3,363.2 70.2,360.3 72.2,361.3 74.1,359.3 76.0,357.8 78.0,359.3 79.9,359.0 81.9,357.8 83.8,354.5 85.8,353.5 87.7,352.5 89.3,350.6 90.6,347.7 92.0,342.8 93.1,334.1 94.3,324.4 95.5,320.1 96.4,319.5 97.4,326.3 98.4,336.0 99.4,345.7" fill="none" stroke="#FFC000" stroke-width="1.5" stroke-linejoin="round" stroke-linecap="round"/>
<polyline points="45.9,356.4 47.3,357.8 48.8,359.3 50.4,355.8 51.7,358.4 53.1,361.3 54.7,363.2 56.2,360.3 57.6,359.0 58.9,363.2 60.5,362.3 62.4,361.3 64.4,360.3 66.3,362.3 68.3,359.3 70.2,357.8 72.2,356.4 73.7,354.5 75.1,350.6 76.4,351.6 78.0,347.7 79.5,344.8 80.9,340.9 82.3,333.1 83.4,325.3 84.8,318.1 86.1,318.5 87.3,322.4 88.7,330.2 90.0,338.0 91.6,345.7 93.1,349.6 94.5,352.5 96.4,353.1" fill="none" stroke="#1C68CE" stroke-width="1.3" stroke-linejoin="round" stroke-linecap="round"/>
<polyline points="45.9,362.3 47.9,360.9 49.8,363.2 51.7,362.3 53.7,363.6 55.6,361.3 57.6,363.6 59.5,362.3 61.5,364.2 63.4,362.8 65.3,363.6 67.3,362.3 69.2,363.2 71.2,361.3 73.1,362.8 75.1,360.9 77.0,363.2 79.0,361.7 80.9,360.3 82.8,361.3 84.8,359.3 86.7,357.8 88.7,359.0 90.6,356.4 92.6,354.5 93.9,353.1 95.1,350.6 96.4,346.7 97.4,339.9 98.4,332.1 99.0,327.3 99.7,334.1 100.5,344.8 101.7,351.6 102.9,354.5" fill="none" stroke="#1E9BDE" stroke-width="1.5" stroke-linejoin="round" stroke-linecap="round"/>
<path d="M45.3,271.59999999999997V368.2H186.0" fill="none" stroke="#000" stroke-width="1.1"/>
<text x="38.8" y="370.60" text-anchor="end">0</text>
<text x="38.8" y="360.97" text-anchor="end">10</text>
<text x="38.8" y="351.34" text-anchor="end">20</text>
<text x="38.8" y="341.71" text-anchor="end">30</text>
<text x="38.8" y="332.08" text-anchor="end">40</text>
<text x="38.8" y="322.45" text-anchor="end">50</text>
<text x="38.8" y="312.82" text-anchor="end">60</text>
<text x="38.8" y="303.19" text-anchor="end">70</text>
<text x="38.8" y="293.56" text-anchor="end">80</text>
<text x="38.8" y="283.93" text-anchor="end">90</text>
<text x="38.8" y="274.30" text-anchor="end">100</text>
<text x="45.30" y="379.60" text-anchor="middle">0</text>
<text x="58.06" y="379.60" text-anchor="middle">20</text>
<text x="70.83" y="379.60" text-anchor="middle">40</text>
<text x="83.59" y="379.60" text-anchor="middle">60</text>
<text x="96.35" y="379.60" text-anchor="middle">80</text>
<text x="109.12" y="379.60" text-anchor="middle">100</text>
<text x="121.88" y="379.60" text-anchor="middle">120</text>
<text x="134.65" y="379.60" text-anchor="middle">140</text>
<text x="147.41" y="379.60" text-anchor="middle">160</text>
<text x="160.17" y="379.60" text-anchor="middle">180</text>
<text x="172.94" y="379.60" text-anchor="middle">200</text>
<text x="185.70" y="379.60" text-anchor="middle">220</text>
<path d="M45.3,368.20h2.0 M45.3,358.57h2.0 M45.3,348.94h2.0 M45.3,339.31h2.0 M45.3,329.68h2.0 M45.3,320.05h2.0 M45.3,310.42h2.0 M45.3,300.79h2.0 M45.3,291.16h2.0 M45.3,281.53h2.0 M45.3,271.90h2.0 M45.30,368.2v-2.0 M58.06,368.2v-2.0 M70.83,368.2v-2.0 M83.59,368.2v-2.0 M96.35,368.2v-2.0 M109.12,368.2v-2.0 M121.88,368.2v-2.0 M134.65,368.2v-2.0 M147.41,368.2v-2.0 M160.17,368.2v-2.0 M172.94,368.2v-2.0 M185.70,368.2v-2.0" stroke="#000" stroke-width="0.9" fill="none"/>
<text x="115.50" y="390.00" text-anchor="middle">Distance to core (µm)</text>
<text transform="translate(22.20,320.05) rotate(-90)" text-anchor="middle">Sr/Ca × 1000</text>
<path d="M188.4,309.2h13.2" stroke="#F27C2E" stroke-width="1.5" fill="none"/>
<text x="202.60" y="311.60">20-1-P</text>
<path d="M188.4,319.7h13.2" stroke="#A0A0A0" stroke-width="1.2" fill="none"/>
<text x="202.60" y="322.10">20-1-D</text>
<path d="M188.4,330.3h13.2" stroke="#FFC000" stroke-width="1.5" fill="none"/>
<text x="202.60" y="332.70">20-1-V</text>
<path d="M188.4,340.8h13.2" stroke="#1C68CE" stroke-width="1.3" fill="none"/>
<text x="202.60" y="343.20">20-1-A</text>
<path d="M188.4,351.3h13.2" stroke="#1E9BDE" stroke-width="1.5" fill="none"/>
<text x="202.60" y="353.70">20-1-C</text>
<polyline points="270.9,359.4 272.3,357.3 273.8,361.4 275.8,362.0 277.2,362.2 278.7,360.3 280.6,358.9 282.6,362.7 284.0,362.0 285.5,362.0 287.4,361.7 289.4,362.6 291.3,361.7 293.3,360.6 295.2,361.5 297.2,363.3 299.1,362.4 301.0,362.4 303.0,364.1 304.9,365.1 306.9,364.2 308.8,362.9 310.8,363.5 312.7,364.9 314.6,363.2 316.6,363.8 318.5,363.3 320.5,364.1 322.4,363.3 324.4,363.1 326.3,362.2 328.2,361.9 330.2,361.2 332.1,361.7 334.0,360.8 335.5,360.8 336.9,360.3 338.4,360.5 339.8,359.8 341.3,360.2 342.7,360.6 344.2,359.2 345.7,359.5 347.1,359.1 348.6,359.5 350.0,358.0 351.5,357.8 353.0,355.8 354.4,358.4 356.3,356.4 358.3,357.4 360.2,356.4 362.2,358.4 363.5,353.1 364.7,352.0 366.1,345.7 367.4,338.0 368.6,330.2 369.6,327.9 370.9,330.2 372.5,328.6 373.8,324.4 375.2,310.8 376.4,295.2 377.3,283.5 378.5,280.0 379.7,287.4 381.0,303.0 382.2,315.6 383.6,317.6 384.9,324.4 386.1,334.1 387.4,341.8 388.8,347.7 390.4,350.6 391.9,352.5 393.3,355.1" fill="none" stroke="#A0A0A0" stroke-width="1.4" stroke-linejoin="round" stroke-linecap="round"/>
<polyline points="270.9,364.2 272.5,364.9 274.2,364.0 275.8,364.6 277.7,364.0 279.7,364.7 281.6,363.9 283.5,363.9 285.5,364.8 287.4,363.9 289.4,364.2 291.3,364.5 293.3,365.1 295.2,364.5 297.2,364.5 299.1,364.8 301.0,363.7 303.0,363.8 304.9,363.3 306.9,363.6 309.8,362.8 311.7,361.3 313.7,359.3 315.6,360.3 317.6,358.4 318.9,360.9 320.5,362.3 322.0,359.3 323.4,356.4 324.7,357.4 326.3,354.5 327.9,347.7 329.2,340.9 330.6,335.0 331.7,333.7 333.1,339.9 334.0,341.8 335.6,340.9 336.9,345.7 337.9,336.0 338.9,324.4 339.8,316.2 341.2,318.5 342.4,326.3 343.7,335.0 345.3,345.7 346.6,355.5 348.0,360.9 349.2,362.8" fill="none" stroke="#F27C2E" stroke-width="1.5" stroke-linejoin="round" stroke-linecap="round"/>
<polyline points="270.9,362.3 273.8,363.2 277.7,362.8 281.6,363.2 285.5,361.3 287.4,360.3 289.4,358.4 290.9,359.3 292.3,360.9 293.7,358.4 295.2,355.5 296.8,354.5 298.1,357.4 300.1,356.4 302.0,357.0 304.0,355.5 305.9,353.5 307.8,349.6 309.2,341.8 310.4,335.0 311.7,336.4 313.1,335.0 314.3,326.3 315.6,314.6 316.6,304.0 317.6,301.4 318.5,306.9 319.5,318.5 320.5,334.1 321.4,345.7 322.4,348.7 323.8,352.5 324.9,355.5" fill="none" stroke="#FFC000" stroke-width="1.5" stroke-linejoin="round" stroke-linecap="round"/>
<polyline points="270.9,362.8 273.8,364.2 277.7,363.6 281.6,364.8 285.5,364.2 289.4,363.2 293.3,362.3 297.2,363.6 300.1,363.2 303.0,361.3 305.9,359.0 307.8,357.4 309.8,358.4 311.1,355.5 312.7,351.2 314.3,350.6 315.6,353.5 316.6,354.5 318.1,350.6 319.5,347.7 320.9,345.7 322.4,342.8 324.0,340.9 325.3,342.8 326.7,338.9 328.2,333.1 329.8,329.2 331.2,330.2 332.5,328.6 334.0,329.2 335.6,328.6 336.9,329.8 337.9,325.9 338.9,331.2 340.2,334.1 341.8,333.1 343.7,331.7 344.7,334.1 345.7,338.9 346.6,342.8 348.0,346.7 349.5,348.7 351.1,352.5 352.5,353.5 353.8,352.5 355.4,354.5 356.9,357.4 358.3,355.5 359.7,359.0" fill="none" stroke="#1C68CE" stroke-width="1.3" stroke-linejoin="round" stroke-linecap="round"/>
<polyline points="270.9,363.2 272.9,362.3 274.8,364.2 276.7,363.2 278.7,365.2 280.6,363.6 282.6,364.8 284.5,363.2 286.5,364.2 288.4,362.3 290.3,361.3 292.3,359.3 294.2,355.5 295.6,358.4 297.2,353.5 298.7,350.6 300.1,351.6 301.4,349.6 303.0,346.7 304.0,341.8 304.9,337.0 306.1,332.1 307.1,328.6 307.8,336.0 308.8,344.8" fill="none" stroke="#1E9BDE" stroke-width="1.5" stroke-linejoin="round" stroke-linecap="round"/>
<path d="M270.2,272.59999999999997V368.3H410.6" fill="none" stroke="#000" stroke-width="1.1"/>
<text x="263.7" y="370.70" text-anchor="end">0</text>
<text x="263.7" y="361.16" text-anchor="end">10</text>
<text x="263.7" y="351.62" text-anchor="end">20</text>
<text x="263.7" y="342.08" text-anchor="end">30</text>
<text x="263.7" y="332.54" text-anchor="end">40</text>
<text x="263.7" y="323.00" text-anchor="end">50</text>
<text x="263.7" y="313.46" text-anchor="end">60</text>
<text x="263.7" y="303.92" text-anchor="end">70</text>
<text x="263.7" y="294.38" text-anchor="end">80</text>
<text x="263.7" y="284.84" text-anchor="end">90</text>
<text x="263.7" y="275.30" text-anchor="end">100</text>
<text x="270.20" y="379.60" text-anchor="middle">0</text>
<text x="282.94" y="379.60" text-anchor="middle">20</text>
<text x="295.67" y="379.60" text-anchor="middle">40</text>
<text x="308.41" y="379.60" text-anchor="middle">60</text>
<text x="321.15" y="379.60" text-anchor="middle">80</text>
<text x="333.88" y="379.60" text-anchor="middle">100</text>
<text x="346.62" y="379.60" text-anchor="middle">120</text>
<text x="359.35" y="379.60" text-anchor="middle">140</text>
<text x="372.09" y="379.60" text-anchor="middle">160</text>
<text x="384.83" y="379.60" text-anchor="middle">180</text>
<text x="397.56" y="379.60" text-anchor="middle">200</text>
<text x="410.30" y="379.60" text-anchor="middle">220</text>
<path d="M270.2,368.30h2.0 M270.2,358.76h2.0 M270.2,349.22h2.0 M270.2,339.68h2.0 M270.2,330.14h2.0 M270.2,320.60h2.0 M270.2,311.06h2.0 M270.2,301.52h2.0 M270.2,291.98h2.0 M270.2,282.44h2.0 M270.2,272.90h2.0 M270.20,368.3v-2.0 M282.94,368.3v-2.0 M295.67,368.3v-2.0 M308.41,368.3v-2.0 M321.15,368.3v-2.0 M333.88,368.3v-2.0 M346.62,368.3v-2.0 M359.35,368.3v-2.0 M372.09,368.3v-2.0 M384.83,368.3v-2.0 M397.56,368.3v-2.0 M410.30,368.3v-2.0" stroke="#000" stroke-width="0.9" fill="none"/>
<text x="340.25" y="390.00" text-anchor="middle">Distance to core (µm)</text>
<text transform="translate(246.80,320.60) rotate(-90)" text-anchor="middle">Sr/Ca × 1000</text>
<path d="M415.4,310.6h11.8" stroke="#F27C2E" stroke-width="1.5" fill="none"/>
<text x="428.90" y="313.00">20-2-P</text>
<path d="M415.4,321.1h11.8" stroke="#A0A0A0" stroke-width="1.2" fill="none"/>
<text x="428.90" y="323.50">20-2-D</text>
<path d="M415.4,331.3h11.8" stroke="#FFC000" stroke-width="1.5" fill="none"/>
<text x="428.90" y="333.70">20-2-V</text>
<path d="M415.4,341.8h11.8" stroke="#1C68CE" stroke-width="1.3" fill="none"/>
<text x="428.90" y="344.20">20-2-A</text>
<path d="M415.4,352.2h11.8" stroke="#1E9BDE" stroke-width="1.5" fill="none"/>
<text x="428.90" y="354.60">20-2-C</text>
<polyline points="496.5,360.9 498.8,362.8 501.7,363.6 504.7,364.2 508.5,363.6 512.4,364.2 516.3,363.2 520.2,364.2 524.1,363.6 528.0,363.2 531.9,362.8 535.8,362.3 539.6,362.8 543.5,361.7 547.4,361.3 551.3,361.3 555.2,360.9 558.1,361.7 560.0,359.3 562.9,358.4 565.8,354.5 568.7,351.6 571.7,347.7 574.6,347.3 577.5,345.7 580.4,344.8 583.3,343.8 586.2,341.5 589.2,338.9 591.1,336.0 593.0,335.6 595.0,336.0 596.9,332.1 598.9,326.3 600.2,314.6 601.4,303.0 602.4,293.7 603.7,293.3 605.1,292.7 606.3,301.0 607.6,312.7 609.0,324.4 610.1,331.2 610.9,334.1" fill="none" stroke="#A0A0A0" stroke-width="1.4" stroke-linejoin="round" stroke-linecap="round"/>
<polyline points="496.5,362.3 498.8,364.8 504.7,365.2 510.5,365.6 516.3,364.8 522.2,365.2 526.0,364.2 529.9,363.2 533.8,364.2 537.7,364.8 541.6,364.2 545.5,363.2 549.4,364.2 551.3,365.2 555.2,364.8 558.1,363.2 560.0,363.2 563.9,364.2 567.8,363.2 571.7,364.8 575.5,363.6 578.5,363.2 580.4,361.3 582.3,359.3 584.3,356.4 586.2,355.5 587.6,349.6 588.8,343.8 590.7,342.8 592.6,343.4 594.6,338.0 596.5,335.0 598.3,332.1 599.8,332.5 601.2,339.9 602.4,344.8 603.1,346.7" fill="none" stroke="#F27C2E" stroke-width="1.5" stroke-linejoin="round" stroke-linecap="round"/>
<polyline points="496.5,365.2 497.9,367.1 500.8,365.2 504.7,364.8 508.5,364.2 512.4,364.8 516.3,364.2 520.2,365.2 524.1,364.2 527.0,364.8 529.9,364.2 531.9,363.2 534.2,361.7 535.8,364.2 538.7,363.2 541.6,364.2 544.5,362.8 547.4,364.2 550.3,363.2 553.2,362.3 555.2,364.2 558.1,365.2 560.0,364.2 562.9,363.2 565.8,364.8 568.7,362.3 570.7,363.6 572.6,360.9 574.6,357.8 576.5,356.4 577.9,358.4 579.4,351.6 581.4,345.7 583.3,340.9 585.3,335.0 587.2,336.0 589.2,337.6 591.1,340.9 593.0,344.8 595.0,346.1 597.9,346.7 599.8,346.1 601.8,346.7 603.1,342.8 604.7,338.0 606.3,334.1 607.6,330.6 609.0,333.1 610.1,336.4 611.5,337.6 613.4,338.4" fill="none" stroke="#FFC000" stroke-width="1.5" stroke-linejoin="round" stroke-linecap="round"/>
<polyline points="496.5,363.2 498.8,365.2 502.7,366.1 506.6,365.6 510.5,365.2 514.4,364.8 518.3,365.2 521.2,363.2 524.1,364.2 527.0,362.8 529.9,360.9 531.9,359.3 534.8,357.4 536.7,357.8 539.6,356.4 541.6,355.8 543.9,357.0 546.4,354.5 549.4,355.1 551.3,356.4 554.2,358.4 557.1,357.0 560.0,356.4 562.9,353.1 565.8,351.6 567.8,352.5 569.7,353.5 571.3,349.6 572.6,347.3 575.5,346.7 578.5,346.7 581.4,348.7 583.3,350.6 586.2,351.6" fill="none" stroke="#1C68CE" stroke-width="1.3" stroke-linejoin="round" stroke-linecap="round"/>
<polyline points="496.5,356.4 497.9,360.3 499.8,363.2 502.7,364.2 505.6,362.8 508.5,363.2 511.5,360.9 514.4,358.4 517.3,358.4 520.2,358.4 523.1,357.4 526.0,355.5 529.0,352.5 530.9,355.5 532.8,353.5 534.8,351.2 536.7,349.2 539.6,350.6 542.6,352.0 545.5,351.6 548.4,353.1 550.9,353.5" fill="none" stroke="#1E9BDE" stroke-width="1.5" stroke-linejoin="round" stroke-linecap="round"/>
<path d="M496,271.59999999999997V368.2H632.3" fill="none" stroke="#000" stroke-width="1.1"/>
<text x="489.5" y="370.60" text-anchor="end">0</text>
<text x="489.5" y="360.97" text-anchor="end">10</text>
<text x="489.5" y="351.34" text-anchor="end">20</text>
<text x="489.5" y="341.71" text-anchor="end">30</text>
<text x="489.5" y="332.08" text-anchor="end">40</text>
<text x="489.5" y="322.45" text-anchor="end">50</text>
<text x="489.5" y="312.82" text-anchor="end">60</text>
<text x="489.5" y="303.19" text-anchor="end">70</text>
<text x="489.5" y="293.56" text-anchor="end">80</text>
<text x="489.5" y="283.93" text-anchor="end">90</text>
<text x="489.5" y="274.30" text-anchor="end">100</text>
<text x="496.00" y="379.60" text-anchor="middle">0</text>
<text x="523.20" y="379.60" text-anchor="middle">20</text>
<text x="550.40" y="379.60" text-anchor="middle">40</text>
<text x="577.60" y="379.60" text-anchor="middle">60</text>
<text x="604.80" y="379.60" text-anchor="middle">80</text>
<text x="632.00" y="379.60" text-anchor="middle">100</text>
<path d="M496,368.20h2.0 M496,358.57h2.0 M496,348.94h2.0 M496,339.31h2.0 M496,329.68h2.0 M496,320.05h2.0 M496,310.42h2.0 M496,300.79h2.0 M496,291.16h2.0 M496,281.53h2.0 M496,271.90h2.0 M496.00,368.2v-2.0 M523.20,368.2v-2.0 M550.40,368.2v-2.0 M577.60,368.2v-2.0 M604.80,368.2v-2.0 M632.00,368.2v-2.0" stroke="#000" stroke-width="0.9" fill="none"/>
<text x="564.00" y="390.00" text-anchor="middle">Distance to core (µm)</text>
<text transform="translate(473.00,320.05) rotate(-90)" text-anchor="middle">Sr/Ca × 1000</text>
<path d="M643.2,307.9h13.5" stroke="#F27C2E" stroke-width="1.5" fill="none"/>
<text x="657.80" y="310.30">20-3-P</text>
<path d="M643.2,318.5h13.5" stroke="#A0A0A0" stroke-width="1.2" fill="none"/>
<text x="657.80" y="320.90">20-3-D</text>
<path d="M643.2,329.1h13.5" stroke="#FFC000" stroke-width="1.5" fill="none"/>
<text x="657.80" y="331.50">20-3-V</text>
<path d="M643.2,339.6h13.5" stroke="#1C68CE" stroke-width="1.3" fill="none"/>
<text x="657.80" y="342.00">20-3-A</text>
<path d="M643.2,349.9h13.5" stroke="#1E9BDE" stroke-width="1.5" fill="none"/>
<text x="657.80" y="352.30">20-3-C</text>
<polyline points="45.0,493.4 46.6,492.5 48.2,494.3 49.8,494.2 51.4,493.1 53.0,493.6 54.6,492.5 56.2,492.5 57.8,492.7 59.4,493.7 61.0,492.5 62.6,494.3 64.2,492.2 65.8,492.5 67.4,492.2 69.0,493.8 70.6,492.9 72.2,493.1 73.8,492.8 75.4,493.5 77.0,493.0 78.6,492.5 80.2,493.0 81.8,492.7 82.0,492.3 83.8,490.4 85.0,493.4" fill="none" stroke="#2F7FD8" stroke-width="1.3" stroke-linejoin="round" stroke-linecap="round"/>
<polyline points="45.0,492.1 46.6,493.5 48.2,492.2 49.8,493.8 51.4,493.5 53.0,492.9 54.6,493.6 56.2,493.4 57.8,491.8 59.4,493.3 61.0,493.6 62.6,493.3 64.2,494.3 65.8,493.9 67.4,492.8 69.0,492.4 70.6,492.1 72.2,494.1 73.8,493.8 75.4,493.5 77.0,493.0 78.6,493.2 80.2,492.4 81.8,493.3 83.4,492.1 85.0,493.6 86.6,493.6 88.2,493.7 89.8,492.4 91.4,492.0 93.0,492.7 94.6,493.8 96.2,493.2 97.8,493.9 99.4,493.0 101.0,492.9 102.6,494.4 104.2,492.2 105.8,492.3 107.4,493.5 109.0,493.6 110.6,493.0 112.2,493.4 113.8,493.0 115.4,493.7 117.0,494.4 118.6,494.2 120.2,493.6 121.8,493.1 123.4,494.5 125.0,493.0 126.6,493.6 128.2,494.3 129.8,493.8 131.4,492.9 133.0,493.9 134.6,493.5 136.2,494.4 137.8,493.6 139.4,493.3 140.0,494.6 142.0,493.9 143.6,492.5 145.2,493.2 146.8,493.3 148.4,491.8 150.0,491.4 151.6,492.9 153.2,491.5 154.8,492.3 156.4,493.7 158.0,493.6 159.6,491.5 161.2,491.4 162.8,491.8 164.4,493.5 165.0,491.3 167.0,491.4 169.0,491.6 171.0,490.8 173.0,491.0 174.7,490.4" fill="none" stroke="#48B040" stroke-width="1.3" stroke-linejoin="round" stroke-linecap="round"/>
<polyline points="45.0,494.2 46.6,494.0 48.2,493.6 49.8,492.3 51.4,492.6 53.0,493.6 54.6,493.8 56.2,491.7 57.8,492.1 59.4,494.0 61.0,492.0 62.6,493.4 64.2,492.6 65.8,493.4 67.4,493.9 69.0,493.2 70.6,492.7 72.2,492.5 73.8,493.3 75.4,493.3 77.0,492.8 78.6,492.9 80.2,493.1 81.8,492.4 83.4,492.2 85.0,493.2 86.6,492.0 88.2,493.3 89.8,493.8 91.4,493.9 93.0,492.4 94.6,492.8 96.2,494.1 97.8,492.6 99.4,494.3 101.0,492.2 102.6,493.9 104.2,491.8 105.8,493.4 107.4,493.8 109.0,493.1 110.6,493.3 112.0,494.1" fill="none" stroke="#F27C2E" stroke-width="1.4" stroke-linejoin="round" stroke-linecap="round"/>
<polyline points="45.0,494.0 47.0,493.2 49.0,493.9 51.0,494.1 53.0,493.1 55.0,493.8 57.0,493.1 59.0,492.9 61.0,493.2 63.0,493.8 65.0,492.8 67.0,493.7 69.0,493.2 71.0,492.9 73.0,493.3 75.0,493.2 77.0,493.3 79.0,494.0 81.0,494.1 83.0,493.0 85.0,494.2" fill="none" stroke="#A0A0A0" stroke-width="1.2" stroke-linejoin="round" stroke-linecap="round"/>
<polyline points="45.0,493.8 46.6,494.3 48.2,491.8 49.8,494.4 51.4,494.1 53.0,492.0 54.6,494.1 56.2,494.1 57.8,492.3 59.4,494.5 61.0,492.8 62.6,493.1 64.2,493.6 65.8,493.7 67.4,493.9 69.0,492.6 70.6,493.2 72.2,492.2 73.8,492.6 75.4,493.2 77.0,492.0 78.6,492.8 80.2,494.1 81.8,492.3 83.4,493.0 83.8,491.9" fill="none" stroke="#FFC000" stroke-width="1.5" stroke-linejoin="round" stroke-linecap="round"/>
<path d="M44.3,404.5V496.2H178.9" fill="none" stroke="#000" stroke-width="1.1"/>
<text x="37.8" y="498.60" text-anchor="end">0</text>
<text x="37.8" y="489.46" text-anchor="end">10</text>
<text x="37.8" y="480.32" text-anchor="end">20</text>
<text x="37.8" y="471.18" text-anchor="end">30</text>
<text x="37.8" y="462.04" text-anchor="end">40</text>
<text x="37.8" y="452.90" text-anchor="end">50</text>
<text x="37.8" y="443.76" text-anchor="end">60</text>
<text x="37.8" y="434.62" text-anchor="end">70</text>
<text x="37.8" y="425.48" text-anchor="end">80</text>
<text x="37.8" y="416.34" text-anchor="end">90</text>
<text x="37.8" y="407.20" text-anchor="end">100</text>
<text x="44.30" y="507.60" text-anchor="middle">0</text>
<text x="57.73" y="507.60" text-anchor="middle">20</text>
<text x="71.16" y="507.60" text-anchor="middle">40</text>
<text x="84.59" y="507.60" text-anchor="middle">60</text>
<text x="98.02" y="507.60" text-anchor="middle">80</text>
<text x="111.45" y="507.60" text-anchor="middle">100</text>
<text x="124.88" y="507.60" text-anchor="middle">120</text>
<text x="138.31" y="507.60" text-anchor="middle">140</text>
<text x="151.74" y="507.60" text-anchor="middle">160</text>
<text x="165.17" y="507.60" text-anchor="middle">180</text>
<text x="178.60" y="507.60" text-anchor="middle">200</text>
<path d="M44.3,496.20h2.0 M44.3,487.06h2.0 M44.3,477.92h2.0 M44.3,468.78h2.0 M44.3,459.64h2.0 M44.3,450.50h2.0 M44.3,441.36h2.0 M44.3,432.22h2.0 M44.3,423.08h2.0 M44.3,413.94h2.0 M44.3,404.80h2.0 M44.30,496.2v-2.0 M57.73,496.2v-2.0 M71.16,496.2v-2.0 M84.59,496.2v-2.0 M98.02,496.2v-2.0 M111.45,496.2v-2.0 M124.88,496.2v-2.0 M138.31,496.2v-2.0 M151.74,496.2v-2.0 M165.17,496.2v-2.0 M178.60,496.2v-2.0" stroke="#000" stroke-width="0.9" fill="none"/>
<text x="111.45" y="518.30" text-anchor="middle">Distance to core (µm)</text>
<text transform="translate(20.40,450.50) rotate(-90)" text-anchor="middle">Sr/Ca × 1000</text>
<path d="M183.2,425.6h13.2" stroke="#2F7FD8" stroke-width="1.5" fill="none"/>
<text x="197.70" y="428.00">20-1-P-0</text>
<path d="M183.2,437.7h13.2" stroke="#48B040" stroke-width="1.4" fill="none"/>
<text x="197.70" y="440.10">20-1-D-0</text>
<path d="M183.2,450h13.2" stroke="#F27C2E" stroke-width="1.4" fill="none"/>
<text x="197.70" y="452.40">20-1-V-0</text>
<path d="M183.2,462.2h13.2" stroke="#A0A0A0" stroke-width="1.1" fill="none"/>
<text x="197.70" y="464.60">20-1-A-0</text>
<path d="M183.2,474.4h13.2" stroke="#FFC000" stroke-width="1.4" fill="none"/>
<text x="197.70" y="476.80">20-1-C-0</text>
<polyline points="271.0,493.6 272.8,492.3 274.6,493.9 276.4,492.9 278.2,492.7 280.0,493.2 281.8,492.2 283.6,492.2 285.4,492.7 287.2,492.3 289.0,493.3 290.8,492.7 292.6,492.6 294.4,492.4 296.2,492.3 298.0,493.4 299.8,493.8 301.6,492.6 303.4,493.6 305.2,492.5 307.0,493.5 308.8,492.3 310.6,493.1 312.4,492.7 314.2,493.7 316.0,493.5 317.8,492.0 319.6,492.0 321.4,492.8 323.2,492.3 325.0,492.3 326.8,493.9 328.0,493.9 330.0,492.3 332.0,491.1 334.8,490.1" fill="none" stroke="#2F7FD8" stroke-width="1.3" stroke-linejoin="round" stroke-linecap="round"/>
<polyline points="271.0,493.3 273.0,493.6 275.0,493.5 277.0,493.7 279.0,494.1 281.0,493.8 283.0,492.6 285.0,492.7 287.0,493.2 289.0,493.1 291.0,494.2 293.0,493.8 295.0,493.2 297.0,493.0 299.0,492.8 301.0,493.5 303.0,494.1 305.0,492.6 307.0,493.2 309.0,493.0 311.0,493.5 313.0,492.8 315.0,492.4 317.0,493.7 319.0,492.9 321.0,493.6 323.0,494.1 325.0,493.5 327.0,494.1 329.0,493.9 330.0,492.4 332.0,492.9 334.2,494.3 336.4,494.1 338.6,492.9 340.8,493.8 343.0,493.3 345.2,494.3 347.4,494.3 349.6,493.4 351.8,493.9 352.0,493.7 355.0,493.1 358.0,492.5 360.0,492.1 361.3,490.5" fill="none" stroke="#48B040" stroke-width="1.3" stroke-linejoin="round" stroke-linecap="round"/>
<polyline points="271.0,493.3 273.0,492.9 275.9,490.5 278.0,492.9 280.0,492.3 281.8,492.0 283.6,493.3 285.4,492.3 287.2,493.2 289.0,492.1 290.8,494.0 292.6,493.3 294.4,492.4 296.2,491.9 298.0,493.6 299.8,493.8 301.6,492.5 303.4,492.0 305.2,494.0 307.0,493.8 308.8,492.8 310.6,492.0 311.0,493.5 313.0,489.7 315.0,488.3 319.0,488.0 322.0,488.3 324.4,491.5" fill="none" stroke="#F27C2E" stroke-width="1.4" stroke-linejoin="round" stroke-linecap="round"/>
<polyline points="271.0,493.7 273.0,492.0 275.0,491.8 277.0,491.8 279.0,493.3 281.0,493.6 283.0,493.9 285.0,493.1 287.0,493.0 289.0,493.1 291.0,492.7 293.0,492.8 295.0,491.8 297.0,491.6 299.0,493.6 301.0,493.4 303.0,493.8 305.0,493.3 307.0,492.9 309.0,491.9 311.0,493.6 313.0,492.8 315.0,493.6 317.0,493.4 319.0,493.4 321.0,493.0 323.0,493.4 325.0,492.5 327.0,493.2 329.0,492.8" fill="none" stroke="#A0A0A0" stroke-width="1.2" stroke-linejoin="round" stroke-linecap="round"/>
<polyline points="271.0,493.9 272.8,493.4 274.6,493.7 276.4,491.8 278.2,493.5 280.0,493.7 281.8,493.0 283.6,493.1 285.4,492.4 287.2,492.9 289.0,493.3 290.8,494.0 292.6,493.3 294.4,493.0 296.2,492.6 298.0,493.8 299.8,492.6 301.6,491.9 303.4,493.2 305.2,493.1 307.0,494.0 308.8,492.9 310.6,493.6 312.4,492.7 314.2,493.1 316.0,492.0 317.8,493.0 319.6,492.3 321.4,492.9 323.2,492.5 324.0,493.6 326.0,491.9" fill="none" stroke="#FFC000" stroke-width="1.5" stroke-linejoin="round" stroke-linecap="round"/>
<path d="M270.3,402.09999999999997V495.9H406.2" fill="none" stroke="#000" stroke-width="1.1"/>
<text x="263.8" y="498.30" text-anchor="end">0</text>
<text x="263.8" y="488.95" text-anchor="end">10</text>
<text x="263.8" y="479.60" text-anchor="end">20</text>
<text x="263.8" y="470.25" text-anchor="end">30</text>
<text x="263.8" y="460.90" text-anchor="end">40</text>
<text x="263.8" y="451.55" text-anchor="end">50</text>
<text x="263.8" y="442.20" text-anchor="end">60</text>
<text x="263.8" y="432.85" text-anchor="end">70</text>
<text x="263.8" y="423.50" text-anchor="end">80</text>
<text x="263.8" y="414.15" text-anchor="end">90</text>
<text x="263.8" y="404.80" text-anchor="end">100</text>
<text x="270.30" y="507.60" text-anchor="middle">0</text>
<text x="289.67" y="507.60" text-anchor="middle">20</text>
<text x="309.04" y="507.60" text-anchor="middle">40</text>
<text x="328.41" y="507.60" text-anchor="middle">60</text>
<text x="347.79" y="507.60" text-anchor="middle">80</text>
<text x="367.16" y="507.60" text-anchor="middle">100</text>
<text x="386.53" y="507.60" text-anchor="middle">120</text>
<text x="405.90" y="507.60" text-anchor="middle">140</text>
<path d="M270.3,495.90h2.0 M270.3,486.55h2.0 M270.3,477.20h2.0 M270.3,467.85h2.0 M270.3,458.50h2.0 M270.3,449.15h2.0 M270.3,439.80h2.0 M270.3,430.45h2.0 M270.3,421.10h2.0 M270.3,411.75h2.0 M270.3,402.40h2.0 M270.30,495.9v-2.0 M289.67,495.9v-2.0 M309.04,495.9v-2.0 M328.41,495.9v-2.0 M347.79,495.9v-2.0 M367.16,495.9v-2.0 M386.53,495.9v-2.0 M405.90,495.9v-2.0" stroke="#000" stroke-width="0.9" fill="none"/>
<text x="338.10" y="518.30" text-anchor="middle">Distance to core (µm)</text>
<text transform="translate(247.00,449.15) rotate(-90)" text-anchor="middle">Sr/Ca × 1000</text>
<path d="M409.0,425.2h13.2" stroke="#2F7FD8" stroke-width="1.5" fill="none"/>
<text x="423.50" y="427.60">20-2-P-0</text>
<path d="M409.0,437.5h13.2" stroke="#48B040" stroke-width="1.4" fill="none"/>
<text x="423.50" y="439.90">20-2-D-0</text>
<path d="M409.0,449.6h13.2" stroke="#F27C2E" stroke-width="1.4" fill="none"/>
<text x="423.50" y="452.00">20-2-V-0</text>
<path d="M409.0,461.9h13.2" stroke="#A0A0A0" stroke-width="1.1" fill="none"/>
<text x="423.50" y="464.30">20-2-A-0</text>
<path d="M409.0,474.0h13.2" stroke="#FFC000" stroke-width="1.4" fill="none"/>
<text x="423.50" y="476.40">20-2-C-0</text>
<polyline points="496.5,492.7 498.1,493.7 499.7,493.3 501.3,494.3 502.9,493.7 504.5,493.5 506.1,494.4 507.7,493.1 509.3,494.2 510.9,493.3 512.5,493.9 514.1,494.4 515.7,494.1 517.3,493.7 518.9,494.1 520.5,492.5 522.1,493.4 523.7,494.2 525.3,494.0 526.9,493.4 528.5,493.0 530.1,493.2 531.7,493.4 533.3,492.7 534.9,494.4 536.5,493.8 538.1,493.6 539.7,492.9 541.3,493.1 542.9,493.3 544.5,492.8 546.1,493.2 547.7,493.2 549.3,494.0 550.9,494.3 552.5,492.5 554.1,492.8 555.7,494.2 557.3,492.5 558.9,493.0 560.5,493.6 562.1,493.6 563.7,492.9 565.3,494.0 566.9,493.9 568.5,492.5 570.1,493.9 571.7,493.3 572.0,493.5 574.0,492.7 576.0,491.7 578.3,491.9" fill="none" stroke="#2F7FD8" stroke-width="1.3" stroke-linejoin="round" stroke-linecap="round"/>
<polyline points="496.5,493.7 498.1,493.9 499.7,493.3 501.3,494.6 502.9,494.2 504.5,494.3 506.1,493.6 507.7,494.4 509.3,494.2 510.9,493.9 512.5,492.8 514.1,493.6 515.7,494.7 517.3,493.8 518.9,493.4 520.5,494.0 522.1,492.9 523.7,493.3 525.3,494.3 526.9,493.6 528.5,493.5 530.1,494.7 531.7,493.7 533.3,493.6 534.9,492.8 536.5,493.9 538.1,493.7 539.7,493.2 541.3,494.7 542.9,494.0 544.5,493.8 546.1,494.5 547.7,493.5 549.3,494.8 550.9,494.1 552.5,493.4 554.1,493.6 555.7,494.7 557.3,493.9 558.9,492.6 560.5,494.5 562.1,493.5 563.7,493.3 565.3,493.7 566.9,493.0 568.5,494.1 570.1,494.0 571.7,493.6 573.3,493.7 574.9,493.3 576.5,494.1 578.1,494.4 579.7,492.7 581.3,494.0 582.9,494.4 584.5,494.8 586.1,494.3 587.7,494.7 589.3,494.0 590.9,494.5 592.5,494.2 594.1,493.2 595.7,494.2 597.3,494.0 598.9,493.8 600.5,493.1 602.1,494.7 603.7,494.4 605.3,494.3 606.9,493.1 608.5,493.0 610.1,493.0 611.7,493.4 613.3,493.3 614.9,494.2 616.5,493.5 618.1,494.8 619.7,492.7 621.3,493.5 622.9,494.5 624.5,493.7 626.1,494.1 627.7,494.5 629.3,494.0 630.9,493.0 632.5,492.7 634.1,494.8 635.7,493.5 637.3,493.7 638.9,492.8 639.5,493.7" fill="none" stroke="#48B040" stroke-width="1.3" stroke-linejoin="round" stroke-linecap="round"/>
<polyline points="496.5,492.5 498.1,492.6 499.7,493.3 501.3,492.6 502.9,494.4 504.5,492.5 506.1,493.6 507.7,493.1 509.3,494.3 510.9,492.8 512.5,493.1 514.1,493.1 515.7,492.9 517.3,492.4 518.9,493.4 520.5,492.6 522.1,493.7 523.7,492.6 525.3,493.1 526.9,493.4 528.5,494.4 530.1,492.6 531.7,492.7 533.3,494.1 534.9,492.4 536.5,494.4 538.1,493.7 539.7,493.0 541.3,494.2 542.9,494.1 544.5,493.2 546.1,494.2 547.7,492.9 549.3,493.7 550.9,493.6 552.5,494.2 554.1,493.1 555.7,493.3 557.3,494.1 558.9,493.5 560.5,493.9 562.1,493.8 563.7,493.9 565.3,494.4 566.9,493.5 567.0,493.9" fill="none" stroke="#F27C2E" stroke-width="1.4" stroke-linejoin="round" stroke-linecap="round"/>
<polyline points="496.5,494.2 498.5,493.6 500.5,493.0 502.5,494.2 504.5,493.4 506.5,494.0 508.5,492.8 510.5,493.0 512.5,494.2 514.5,494.0 516.5,492.7 518.5,493.5 520.5,493.4 522.5,493.1 524.5,492.9 526.5,493.2 528.5,492.9 530.5,493.0 532.5,494.1 534.5,493.3 536.5,493.2 538.5,493.3 540.5,492.9 542.5,494.1 544.5,493.5 546.5,493.8 548.5,494.3 550.5,492.9 552.5,493.6 554.5,493.5 556.5,493.9 558.5,493.7 560.0,493.4" fill="none" stroke="#A0A0A0" stroke-width="1.2" stroke-linejoin="round" stroke-linecap="round"/>
<polyline points="496.5,494.2 498.1,492.7 499.7,494.0 501.3,492.9 502.9,493.8 504.5,493.0 506.1,493.5 507.7,493.6 509.3,492.2 510.9,493.8 512.5,492.5 514.1,493.3 515.7,494.0 517.3,493.6 518.9,493.9 520.5,492.8 522.1,493.3 523.7,492.6 525.3,493.3 526.9,492.5 528.5,494.2 530.1,492.8 531.7,493.5 533.3,493.4 534.9,493.1 536.5,494.2 538.1,493.6 539.7,493.9 541.3,492.6 542.9,492.6 544.5,492.3 546.1,493.9 547.7,493.5 549.3,492.4 550.9,493.2 552.5,493.3 554.1,493.3 555.4,493.6" fill="none" stroke="#FFC000" stroke-width="1.5" stroke-linejoin="round" stroke-linecap="round"/>
<path d="M496,406.59999999999997V495.9H644.3" fill="none" stroke="#000" stroke-width="1.1"/>
<text x="489.5" y="498.30" text-anchor="end">0</text>
<text x="489.5" y="489.40" text-anchor="end">10</text>
<text x="489.5" y="480.50" text-anchor="end">20</text>
<text x="489.5" y="471.60" text-anchor="end">30</text>
<text x="489.5" y="462.70" text-anchor="end">40</text>
<text x="489.5" y="453.80" text-anchor="end">50</text>
<text x="489.5" y="444.90" text-anchor="end">60</text>
<text x="489.5" y="436.00" text-anchor="end">70</text>
<text x="489.5" y="427.10" text-anchor="end">80</text>
<text x="489.5" y="418.20" text-anchor="end">90</text>
<text x="489.5" y="409.30" text-anchor="end">100</text>
<text x="496.00" y="507.60" text-anchor="middle">0</text>
<text x="507.38" y="507.60" text-anchor="middle">20</text>
<text x="518.77" y="507.60" text-anchor="middle">40</text>
<text x="530.15" y="507.60" text-anchor="middle">60</text>
<text x="541.54" y="507.60" text-anchor="middle">80</text>
<text x="552.92" y="507.60" text-anchor="middle">100</text>
<text x="564.31" y="507.60" text-anchor="middle">120</text>
<text x="575.69" y="507.60" text-anchor="middle">140</text>
<text x="587.08" y="507.60" text-anchor="middle">160</text>
<text x="598.46" y="507.60" text-anchor="middle">180</text>
<text x="609.85" y="507.60" text-anchor="middle">200</text>
<text x="621.23" y="507.60" text-anchor="middle">220</text>
<text x="632.62" y="507.60" text-anchor="middle">240</text>
<text x="644.00" y="507.60" text-anchor="middle">260</text>
<path d="M496,495.90h2.0 M496,487.00h2.0 M496,478.10h2.0 M496,469.20h2.0 M496,460.30h2.0 M496,451.40h2.0 M496,442.50h2.0 M496,433.60h2.0 M496,424.70h2.0 M496,415.80h2.0 M496,406.90h2.0 M496.00,495.9v-2.0 M507.38,495.9v-2.0 M518.77,495.9v-2.0 M530.15,495.9v-2.0 M541.54,495.9v-2.0 M552.92,495.9v-2.0 M564.31,495.9v-2.0 M575.69,495.9v-2.0 M587.08,495.9v-2.0 M598.46,495.9v-2.0 M609.85,495.9v-2.0 M621.23,495.9v-2.0 M632.62,495.9v-2.0 M644.00,495.9v-2.0" stroke="#000" stroke-width="0.9" fill="none"/>
<text x="570.00" y="518.30" text-anchor="middle">Distance to core (µm)</text>
<text transform="translate(473.00,451.40) rotate(-90)" text-anchor="middle">Sr/Ca × 1000</text>
<path d="M635.8,425.8h13.0" stroke="#2F7FD8" stroke-width="1.5" fill="none"/>
<text x="649.80" y="428.20">20-3-P-0</text>
<path d="M635.8,437.9h13.0" stroke="#48B040" stroke-width="1.4" fill="none"/>
<text x="649.80" y="440.30">20-3-D-0</text>
<path d="M635.8,450h13.0" stroke="#F27C2E" stroke-width="1.4" fill="none"/>
<text x="649.80" y="452.40">20-3-V-0</text>
<path d="M635.8,462.2h13.0" stroke="#A0A0A0" stroke-width="1.1" fill="none"/>
<text x="649.80" y="464.60">20-3-A-0</text>
<path d="M635.8,474.4h13.0" stroke="#FFC000" stroke-width="1.4" fill="none"/>
<text x="649.80" y="476.80">20-3-C-0</text>
</g></svg>
</body></html>
